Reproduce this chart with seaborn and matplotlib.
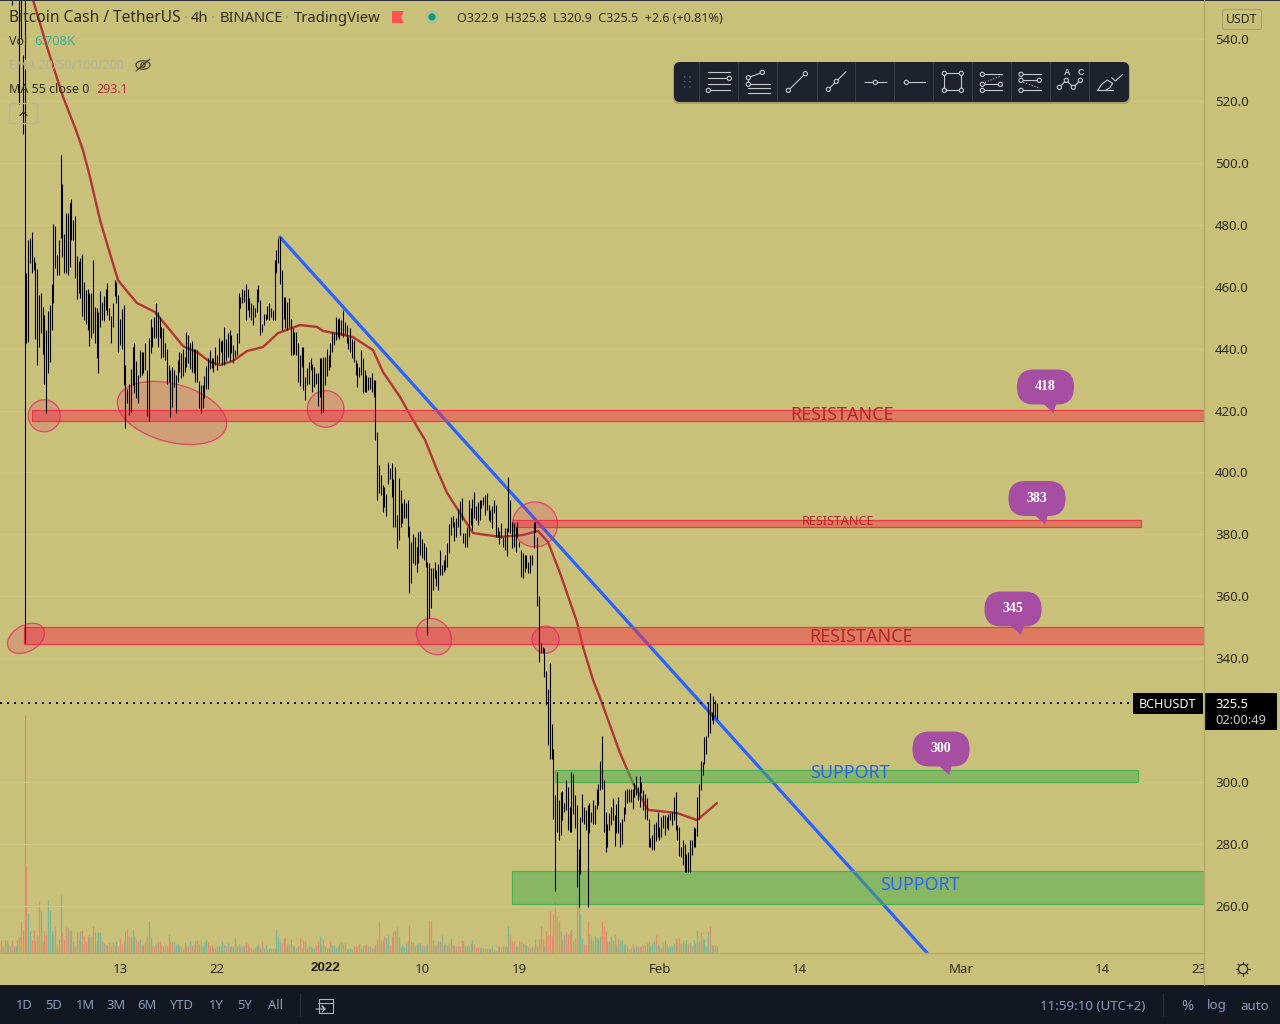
import numpy as np
import pandas as pd
import matplotlib
matplotlib.use("Agg")
import matplotlib.pyplot as plt
from matplotlib.patches import FancyBboxPatch, Polygon, Circle, Rectangle, Ellipse
import seaborn as sns

# ---------- DATA ----------
# 4h bar ranges, price in USDT, oldest bar first
highs_top = [600,598,596,594,592,590,588,570,575,578,572,565,560,534.8,560]
lows_top  = [580,578,576,574,572,570,568,551,560,562,558,519,540,509.3,345]

highs_dec1 = [464.3,475,475.6,477.8,469.7,468,465.6,457.3,457.8,453.5,450.8,446,452,454,461,480.2,479.6,470.2,475,502.5,
 493.2,477,483.7,483.9,487.1,488.3,481.5,482.8,470,468.4,469.1,470.5,461.6,458.9,459.1,457.8,457.8,468.6,453.5,453,
 451.9,458.6,455.1,457,459.4,461.3,453,450.5,454.8,462.1,461.6,457.3,449.4,452.7,454,434.7,427.1,428.7,433.4,440.4,
 441.7,436,431.4,439.7,439,439,441.7,433,443.3,449.7,447.1,450.3,454.6,451.9,450.1,447,446.5,441.7,440,434.7,
 433,434.1,433,431.4,436.3,439,438.7,440,437.4,445.4,444.4,441.7,442.5,440,440,439.7,429.6,428.2,428.2,431,
 434.4,436.8,439.7,436.8,436.8,440.4,438,443.3,442.5,442.7,447.1,443,444.9,446,444.4,441.1,439.5,445,458.1,456.8,459.4]
lows_dec1 = [441.7,442.2,467.5,464.3,465.4,443,434.7,440.6,445.1,438.4,428.7,419.1,432,435.7,446,454.8,465.9,463.7,463.7,475.6,
 469.7,464.3,464.3,463.7,466.4,475,475,462.7,456,457.8,456.2,450.5,449.2,448.1,446,440.8,443.3,445.1,441.7,436.8,
 432,447.1,449.2,448.9,452.4,450.8,449.2,441.7,447.1,457,454.6,439,441.1,440,428.2,414.4,422.3,418.5,419.6,428.2,
 425.5,424,422.3,430.9,431.4,432,433,418.2,416.7,438.7,440.6,443.3,443.3,440.6,443.3,437,437.4,436.3,428.7,429.3,
 417.8,421.2,427.7,419.1,429.3,432.5,430.4,431,432.5,433.9,435.2,433.3,432.5,432,429.3,429.3,420.7,419.1,420.7,424,
 427.1,426.8,433.3,433.6,432.5,434.7,433,435.2,439,434.7,434.7,436,437.4,436,438.7,435.2,437.4,438,441.7,453,454.6]

highs_dec2 = [458.9,461,459.1,456.2,454.6,454,453,459.4,460.5,455.7,448.1,451.3,451.3,453.7,454.6,453,452.4,468.6,472,475.6,
 476.1,465.3,456.7,456.7,455,456.2,449.7,446.8,445.4,445.4,441.7,438,440.6,440.6,430.9,433.6,435.7,436.8,435,434.1,
 432,432,436.8,436.8,437.3,437.3,440,437.9,441.7,445.4,444.9,450.3,449.4,450,449.2,452.4,448.7,447.6,443.8,446.5,
 443,442.7,436.3,435.2,434.1,439.5,436.8,433,431.4,430.9,430.9,432,429.8,429.8,413.1,402.3,399.1,395.9,395.3,393,
 403.4,401.3,403,398,401.8]
lows_dec2 = [455.1,449.2,452.4,450.3,449.2,447.6,450.3,451.9,455.1,444.3,445.4,447.6,449.2,449.7,449.2,450.3,449.2,449.2,464.5,467.5,
 461,446,449.7,446.5,446,447,437.9,437.9,438.4,437.9,429.3,428,434.1,426.6,423.3,428.2,428.7,433,426,427.7,
 428.7,421.4,424.4,419.2,419.6,428.2,431,433,434.1,439,441.1,442.7,443.8,443,444.3,443.8,444.3,441.7,440,439,
 437,435.7,431.4,427.7,430.9,431.4,425.5,426,426,426.6,427.1,426,424.4,410.6,391.2,393.2,392.6,387.3,388.9,386,
 396.4,398,392,382.4,382.5]

highs_jan = [386.3,398.1,394.3,390,391.3,390,391.1,382.7,377.6,380.1,379.3,376,380.6,381.2,378.4,377.1,376,
 371.2,370.7,369,369,371.2,368.5,370.4,375,370.1,371.7,373.3,377.1,383.4,385.5,386,384,385.2,388.1,390.9,391.7,
 380.3,380.3,382.5,391.1,388.4,391.3,393.8,389,390.6,391.1,391.1,392.2,392.7,393.3,389.5,387.9,389,391.1,389.5,382.5,
 381,383.6,379.3,382,382,398.4,391.1,384.1,383.6,382.5,384.1,377.6,375,373.9,373.3,373.3,371.2,373.3,373.3,384.1,
 384.1,379.3,360.1,344.8,343.7,343.2,336,330]
lows_jan = [375.5,378.2,382.5,383.6,385.2,385.2,379.3,361.2,364.2,370.7,370.1,367.9,370.7,373.3,372.3,371.7,369.6,
 347.5,352.9,356.1,362,365.8,363.3,362,366.9,366.9,368,368.5,369.6,373.9,379.8,382.3,378,379.3,382.5,379.8,384.7,
 377.1,376,375.8,379.3,383,381.4,385.2,384.7,383,384.7,388.4,389.5,386.3,387.9,384.7,384.1,382,386.8,379.3,379.3,
 377,378.7,376,375,373,380.9,380.3,375.5,376,374.4,379.3,376,366.3,365.8,368,369,367.4,367.4,370.1,375.5,
 380.9,356.7,338.9,341.6,341.6,334,325,312]

highs_feb = [338.3,318.9,310.8,295.8,303.3,294.1,296.8,297.2,293.3,300.6,298.5,292,303.3,302.5,295.8,292.5,278.5,288.8,296.1,292,
 290.9,292.5,293.1,290.4,294.1,292.5,297.6,299.5,306.7,314.8,300.6,290.4,286.6,290,292,294.7,289.3,292.9,295.2,287.1,
 288,292,297.4,297.9,297.9,297.9,297.9,299.7,301.9,298.5,301.9,300.1,297.4,296,294.7,288.2,281.8,282.8,286.4,287,
 290.4,285.5,288.8,289.3,289.3,288.8,289.8,290,290.4,295.2,296.8,286,285.5,279,281.2,279.9,276.9,277.4,281.4,281.2,
 285.5,285,295.2,299.5,306.9,306.5,314.4,314.8,325.9,328.6,322.7,327.7,326.5,325.6]
lows_feb = [307.6,307.6,288,264.8,283.9,281.2,282.8,287.7,290.4,290.9,284.4,283.9,283.9,289.8,285,266.1,259.7,270.4,287.1,286.6,
 284.4,259.7,283.4,287.1,286.6,286.6,291.4,292.5,297.4,297.9,283.9,277.4,279,284.4,286,287.7,279.3,283.4,283.4,279.1,
 280,287.5,289.8,293.1,293.6,293.6,291.4,295.2,295.8,294.1,292,296.3,290.9,288,287.7,279.1,279.1,278,278,281,
 282.3,281.2,282.3,285,282.8,285,284.4,287.7,286.1,287.7,284.4,281.2,276,275.8,273.1,271,271,271,271,276.4,
 279.1,279,282.5,288.2,297.4,302.2,305.8,309.2,314.6,315.7,320,318.9,321.1,320.5]

# Volume, in units of about 0.28K; positive = up bar, negative = down bar
volume_dec = [-30,-38,22,-40,38,28,-22,-38,20,22,-40,-47,-95,-68,-714,-261,120,65,-40,-70,-35,-55,-157,125,-35,-67,-55,160,128,65,58,
 -82,-28,42,175,-62,-38,-77,76,-67,70,35,-20,-62,40,67,-70,-52,-35,50,-58,-52,-82,62,-38,62,62,-35,30,-25,25,-32,-22,-32,25,35,-20,
 -46,-28,37,-65,-73,-50,47,73,50,-43,-35,43,-28,28,-35,-50,97,46,-22,-22,28,-32,-35,-25,20,-23,-20,58,-32,-32,37,25,28,-22,-17,13,
 32,-22,-22,35,-25,-15,37,-40,28,-35,22,32,40,-32,-22,-25,16,16,22,20,22,35,25,-20,31,-20,22,22,46,-22,28,18]
volume_jan = [-22,25,-32,-28,-18,-16,13,-18,20,28,-15,-37,14,25,12,16,16,-16,-16,73,50,35,-30,-46,-46,28,28,-43,-22,20,-16,22,-46,-14,
 -40,-37,16,20,-22,16,16,-25,-35,50,28,-43,22,16,16,-35,25,25,14,22,-28,35,30,-31,-12,12,16,12,-20,-22,-22,-28,16,20,25,-28,20,-20,
 16,-16,25,-43,-92,-40,40,-50,46,53,-25,-50,-62,68,-77,50,18,28,18,31,-40,-85,35,32,-20,-28,31,31,-25,22,20,-28,-97,-95,40,22,-28,35,
 -35,53,25,-31,-25,31,43,25,-20,-22,22,-22,-40,-37,20,25,22,-28,40,-28,-16,-18,14]
volume_feb = [18,14,-14,-14,-12,16,20,-12,10,-22,22,-16,-22,20,22,80,-55,-35,-35,22,20,-35,-37,-30,28,25,-18,16,-20,14,43,-22,-43,-80,-43,22,
 -65,-55,-127,-52,-117,-157,-110,-100,65,-40,55,-62,-58,-62,73,-37,-46,-175,140,118,46,-28,-28,-95,58,52,40,50,46,40,50,-97,-82,-65,37,37,50,
 -40,58,28,-43,40,40,28,28,-20,-12,-16,-28,16,22,-20,-20,22,-25,-25,31,-35,22,31,35,-55,28,22,16,-31,40,-28,16,22,22,31,-46,-35,-46,31,40,31,
 40,-28,31,-20,40,31,70,37,-62,43,43,22,65,-80,25,-25,-25,22]

# 55-period moving average, sampled where the line bends: days from 1 Jan 2022, price
ma_days = [-27.06,-25.76,-24.28,-23.08,-22.43,-21.78,-20.85,-20.11,-19.18,-18.44,-17.42,-15.76,-14.37,-13.16,-11.86,-10.66,-9.73,-8.53,-7.23,-5.75,
 -4.36,-2.32,-0.74,-0.19,1.39,2.59,4.45,5.38,6.95,8.16,9.27,10.38,11.31,12.33,13.72,16.22,18.35,19.74,20.67,21.78,23.35,23.91,24.84,25.67,27.34,28.54,29.94,32.62,34.48,36.33]
ma_price = [552.6,537.4,521.3,510.6,504.1,495.4,481.5,472.8,462.1,458.9,454.7,451.8,446,440.8,438.9,435.7,434.7,436,439.2,440.5,
 445,447.6,447,445.7,444.7,443.7,439.5,432.4,424.4,416.9,410.5,400.8,393.4,387.9,380.4,379.2,379.8,381.1,377.5,367.5,351.7,343.6,333,325.5,309.4,299.7,291,290,287.7,293.2]

trend_days = [-4.17, 55.8]
trend_price = [476.0, 244.8]

# Drawn zones
res_left  = [-27.15, 17.4, -27.9]
res_right = [81.46, 75.6, 81.46]
res_low   = [416.7, 382.5, 344.5]
res_high  = [420.2, 384.6, 350.0]
sup_left  = [21.36, 17.33]
sup_right = [75.35, 81.46]
sup_low   = [300.1, 260.7]
sup_high  = [303.9, 271.3]
last_price = 325.5

ell_day   = [-26.02,-14.18,0.06,19.46,-27.71,10.10,20.44]
ell_price = [418.3,419.2,420.5,383.2,346.4,347.0,346.0]

price_ticks = [260,280,300,340,360,380,400,420,440,460,480,500,520,540]
time_days   = [-19,-10,0,9,18,31,44,59,72,81]
time_labels = ["13","22","2022","10","19","Feb","14","Mar","14","23"]
range_labels = ["1D","5D","1M","3M","6M","YTD","1Y","5Y","All"]

# ---------- STYLE ----------
BG = "#C9C07A"
sns.set_theme(style="white", rc={"axes.facecolor": BG, "figure.facecolor": BG})
FONT = ["Noto Sans", "DejaVu Sans"]
plt.rcParams["font.family"] = FONT
DARK = "#2e2c1c"
W, H = 1280, 1024
fig = plt.figure(figsize=(W/100, H/100), dpi=100)
ax = fig.add_axes([0, (H-953)/H, 1204/W, 952/H])
XLIM = (-30.12, 81.46)
YLIM = (244.78, 552.27)
PX_DAY = 1204/(XLIM[1]-XLIM[0])
PX_PRICE = 952/(YLIM[1]-YLIM[0])

# Volume on its own axes with the same x scale
vax = fig.add_axes(ax.get_position(), sharex=ax)
vax.set_zorder(0); ax.set_zorder(1); ax.patch.set_alpha(0)
vax.set_ylim(0, 952*3)
vax.axis("off")
STEP = 4/24
LAST_DAY = 36.33
volume = np.array(volume_dec + volume_jan + volume_feb, dtype=float)
vx = LAST_DAY - STEP*(len(volume)-1-np.arange(len(volume)))
vax.vlines(vx, 0, np.abs(volume), colors=np.where(volume >= 0, "#79B793", "#E4896A"), lw=0.95, alpha=0.9)

ax.set_xlim(*XLIM); ax.set_ylim(*YLIM)
ax.set_yticks(price_ticks); ax.set_yticklabels([f"{t:.1f}" for t in price_ticks], color=DARK, fontsize=9.5)
ax.yaxis.tick_right()
ax.set_xticks(time_days)
ax.set_xticklabels(["" if s == "2022" else s for s in time_labels], color=DARK, fontsize=9.5)
ax.tick_params(axis="y", length=0, pad=8)
ax.tick_params(axis="x", length=0, pad=7)
ax.grid(axis="y", color="#CFC786", lw=0.7)
ax.set_axisbelow(True)
for s in ax.spines.values():
    s.set_visible(False)

# Candles
highs = np.array(highs_top + highs_dec1 + highs_dec2 + highs_jan + highs_feb)
lows  = np.array(lows_top + lows_dec1 + lows_dec2 + lows_jan + lows_feb)
cx = LAST_DAY - STEP*(len(highs)-1-np.arange(len(highs)))
bars = ax.vlines(cx, lows, highs, colors="black", lw=0.78, zorder=6)
bars.set_snap(True)

# MA and trend line
sns.lineplot(data=pd.DataFrame({"d": ma_days, "p": ma_price}), x="d", y="p", ax=ax, color="#B0262F", lw=1.7,
             alpha=0.9, sort=False, estimator=None, zorder=3)
sns.lineplot(data=pd.DataFrame({"d": trend_days, "p": trend_price}), x="d", y="p", ax=ax, color="#2962FF", lw=2.3,
             sort=False, estimator=None, zorder=3)
ax.set_xlabel(""); ax.set_ylabel("")
ax.set_xlim(*XLIM); ax.set_ylim(*YLIM)
ax.axhline(last_price, color="black", lw=1.4, ls=(0, (1.0, 2.6)), zorder=7, xmax=1132/1204)

# Zones
for l, r, lo, hi in zip(res_left, res_right, res_low, res_high):
    ax.add_patch(Rectangle((l, lo), r-l, hi-lo, fc=(0.95, 0.21, 0.27, 0.5), ec="#F23645", lw=0.85, zorder=4))
for l, r, lo, hi in zip(sup_left, sup_right, sup_low, sup_high):
    ax.add_patch(Rectangle((l, lo), r-l, hi-lo, fc=(0.30, 0.69, 0.31, 0.52), ec="#4CAF50", lw=0.85, zorder=4))

# Ellipses, shaped in screen pixels
ell_a = [16, 56, 18.3, 22.5, 20, 19.5, 13.5]
ell_b = [16, 29, 18.3, 22.5, 13, 16, 13.5]
ell_r = [0, -15, 0, 0, 30, -50, 0]
t = np.linspace(0, 2*np.pi, 120)
for d, p, a, b, r in zip(ell_day, ell_price, ell_a, ell_b, ell_r):
    th = np.radians(r)
    dx = a*np.cos(t)*np.cos(th) - b*np.sin(t)*np.sin(th)
    dy = a*np.cos(t)*np.sin(th) + b*np.sin(t)*np.cos(th)
    ax.fill(d+dx/PX_DAY, p+dy/PX_PRICE, fc=(0.91, 0.12, 0.39, 0.2), ec=(0.91, 0.12, 0.39, 0.7), lw=0.95, zorder=4)

# ---------- OVERLAY IN PIXELS ----------
ov = fig.add_axes([0, 0, 1, 1], zorder=10)
ov.set_xlim(0, W); ov.set_ylim(H, 0); ov.axis("off"); ov.patch.set_alpha(0)
def txt(x, y, s, color=DARK, size=9.5, ha="left", **kw):
    return ov.text(x, y+1.5, s, color=color, fontsize=size, ha=ha, va="center", **kw)

# Axis frame and chrome
ov.add_patch(Rectangle((1205, 955), 75, 30, fc=BG, ec="none"))
ov.plot([0, 1204], [953, 953], color="#B3AA68", lw=1)
ov.plot([1204, 1204], [0, 985], color="#B3AA68", lw=1)
ov.add_patch(Rectangle((0, 0), W, 1.2, fc="#2A2E39", ec="none"))
ov.add_patch(Rectangle((0, 985), W, 39, fc="#131722", ec="none"))
txt(325, 966.5, time_labels[2], "#1E1C10", 9.6, "center", fontweight="bold", family="Liberation Sans")

# Zone labels
txt(842, 414, "RESISTANCE", "#B3262C", 12.9, "center")
txt(861, 635, "RESISTANCE", "#B3262C", 12.9, "center")
txt(837.5, 520, "RESISTANCE", "#B3262C", 9, "center")
txt(849.5, 772, "SUPPORT", "#2962FF", 12.9, "center")
txt(919.5, 883, "SUPPORT", "#2962FF", 12.9, "center")

# Callouts
for cx0, cy0, lab in [(1045.5, 387, "418"), (1037, 498.5, "383"), (1013, 609, "345"), (941, 749, "300")]:
    ov.add_patch(FancyBboxPatch((cx0-28.5, cy0-17.5), 57, 35, boxstyle="round,pad=0,rounding_size=17", fc="#A64FA2", ec="none"))
    ov.add_patch(Polygon([(cx0-3, cy0+16), (cx0+8, cy0+26), (cx0+11, cy0+16)], fc="#A64FA2", ec="none"))
    txt(cx0, cy0-1.5, lab, "white", 10, "center", fontweight="bold", family="Liberation Serif")

# Header
txt(9, 16.5, "Bitcoin Cash / TetherUS", size=11.2)
txt(184, 16.5, "·", "#9C9A7A", 10.6)
txt(191, 16.5, "4h", size=10.6)
txt(211, 16.5, "·", "#9C9A7A", 10.6)
txt(220, 16.5, "BINANCE", size=10.6)
txt(285, 16.5, "·", "#9C9A7A", 10.6)
txt(294, 16.5, "TradingView", size=10.7)
ov.add_patch(Polygon([(392, 11), (404, 11), (401, 17), (404, 23), (392, 23)], fc="#FF5252", ec="none"))
ov.add_patch(Circle((432, 17), 7, fc="#8FC4A0", ec="none", alpha=0.45))
ov.add_patch(Circle((432, 17), 3.5, fc="#089981", ec="none"))
txt(457, 17, "O322.9  H325.8  L320.9  C325.5  +2.6 (+0.81%)", size=9.05)
txt(9, 40, "Vol", size=9)
txt(34.5, 40, "6.708K", "#3FAE9C", 9.3)
txt(9, 64, "EMA 20/50/100/200", "#B4B49C", 9)
txt(9, 88, "MA 55 close 0", size=9)
txt(96, 88, "293.1", "#B0303A", 9)
ov.add_patch(Ellipse((143, 65), 14, 8.5, fc="none", ec=DARK, lw=0.8))
ov.add_patch(Circle((143, 65), 2.2, fc="none", ec=DARK, lw=0.8))
ov.plot([136, 150], [71, 59], color=DARK, lw=0.8)
ov.add_patch(FancyBboxPatch((9.5, 103.5), 28, 20, boxstyle="round,pad=0,rounding_size=2.5", fc="none", ec="#B5B5A8", lw=1))
ov.plot([20, 23.5, 27], [115.5, 112, 115.5], color=DARK, lw=0.9)

# USDT button
ov.add_patch(FancyBboxPatch((1222.5, 9.5), 39, 20, boxstyle="round,pad=0,rounding_size=2.5", fc="none", ec="#A8A278", lw=0.8))
txt(1242, 18, "USDT", size=8.8, ha="center")

# Price labels
ov.add_patch(Rectangle((1133, 693), 70, 21, fc="black", ec="none"))
txt(1167, 702.5, "BCHUSDT", "white", 9, "center")
ov.add_patch(Rectangle((1204, 693), 73, 37, fc="black", ec="none"))
txt(1215, 703, "325.5", "white", 9.3)
txt(1215, 719, "02:00:49", "#C8C8C8", 9.3)

# Gear
ov.add_patch(Circle((1243, 969), 4.6, fc="none", ec=DARK, lw=0.9))
for ang in np.arange(0, 360, 45):
    c, s = np.cos(np.radians(ang)), np.sin(np.radians(ang))
    ov.plot([1243+4.6*c, 1243+6.8*c], [969+4.6*s, 969+6.8*s], color=DARK, lw=0.9)

# Bottom bar
MUTED = "#8C9DBB"
for x0, lab in zip([24, 54, 85, 116, 147, 182, 216, 245, 276], range_labels):
    txt(x0, 1004, lab, MUTED, 9.3, "center")
ov.plot([300, 300], [994, 1016], color="#2A2E39", lw=1)
ov.add_patch(Rectangle((318.5, 998.5), 14, 14, fc="none", ec="#B2B5BE", lw=0.8))
ov.plot([318, 333], [1002.5, 1002.5], color="#B2B5BE", lw=0.8)
ov.plot([316, 325, 322, 325, 322], [1009, 1009, 1006, 1009, 1012], color="#B2B5BE", lw=0.8)
txt(1093, 1004.5, "11:59:10 (UTC+2)", MUTED, 9.6, "center")
ov.plot([1163, 1163], [994, 1016], color="#2A2E39", lw=1)
txt(1187, 1004.5, "%", MUTED, 10.5, "center")
txt(1217, 1004.5, "log", MUTED, 9.6, "center")
txt(1255, 1004.5, "auto", MUTED, 9.6, "center")

# Drawing toolbar
ov.add_patch(FancyBboxPatch((673, 63), 457, 41, boxstyle="round,pad=0,rounding_size=6", fc="#6E6A3E", ec="none", alpha=0.35))
ov.add_patch(FancyBboxPatch((674, 62), 455, 40, boxstyle="round,pad=0,rounding_size=6", fc="#1E222D", ec="none"))
ICON = "#C9CBD1"
def bx(z): return 670 + z/3
def by(z): return 55 + z/3
def seg(x1, y1, x2, y2, **kw):
    ov.plot([bx(x1), bx(x2)], [by(y1), by(y2)], color=ICON, lw=kw.pop("lw", 0.8), **kw)
def dot(x, y):
    ov.add_patch(Circle((bx(x), by(y)), 2.1, fc="#1E222D", ec=ICON, lw=0.8, zorder=5))
for z in [88, 205, 322, 440, 556, 673, 790, 907, 1024, 1141, 1258]:
    seg(z, 22, z, 138, lw=0.6, alpha=0.18)
for gx in [44, 60]:
    for gy in [66, 80, 96]:
        ov.add_patch(Circle((bx(gx), by(gy)), 0.8, fc="#5A5E6B", ec="none"))
seg(114, 52, 180, 52); seg(114, 70, 172, 70); dot(178, 70); seg(114, 88, 180, 88); seg(120, 106, 180, 106); dot(115, 106)
dot(235, 68); dot(277, 52); dot(235, 88); seg(240, 66, 272, 54); seg(235, 74, 235, 83)
seg(240, 88, 300, 88); seg(235, 100, 300, 100); seg(235, 113, 300, 113)
seg(355, 106, 406, 56); dot(355, 106); dot(406, 56)
seg(475, 103, 528, 50); dot(475, 103); dot(499, 79)
seg(585, 82, 647, 82); dot(616, 82)
seg(715, 82, 765, 82); dot(709, 82)
seg(823, 55, 874, 55); seg(874, 55, 874, 106); seg(874, 106, 823, 106); seg(823, 106, 823, 55)
for a, b in [(823, 55), (874, 55), (823, 106), (874, 106)]:
    dot(a, b)
seg(943, 58, 995, 58); seg(943, 88, 985, 88); seg(943, 106, 995, 106); seg(945, 82, 995, 62, ls=":")
for a, b in [(937, 58), (937, 88), (991, 88), (937, 106)]:
    dot(a, b)
seg(1058, 58, 1113, 58); seg(1059, 76, 1102, 76); seg(1059, 106, 1113, 106); seg(1060, 82, 1110, 100, ls=":")
for a, b in [(1053, 58), (1053, 76), (1108, 76), (1053, 106)]:
    dot(a, b)
seg(1168, 97, 1189, 76); seg(1189, 76, 1210, 97); seg(1210, 97, 1231, 76)
for a, b in [(1168, 97), (1189, 76), (1210, 97), (1231, 76)]:
    dot(a, b)
ov.text(bx(1190), by(52), "A", color=ICON, fontsize=6.5, ha="center", va="center", fontweight="bold", family="Liberation Sans")
ov.text(bx(1233), by(52), "C", color=ICON, fontsize=6.5, ha="center", va="center", fontweight="bold", family="Liberation Sans")
seg(1282, 106, 1330, 106)
ov.plot([bx(z) for z in (1284, 1295, 1312, 1328, 1320, 1308)], [by(z) for z in (105, 88, 75, 85, 98, 105)], color=ICON, lw=0.8)
ov.plot([bx(z) for z in (1325, 1336, 1358)], [by(z) for z in (68, 78, 58)], color=ICON, lw=0.8)

fig.savefig("out.png", dpi=100, facecolor=BG)
